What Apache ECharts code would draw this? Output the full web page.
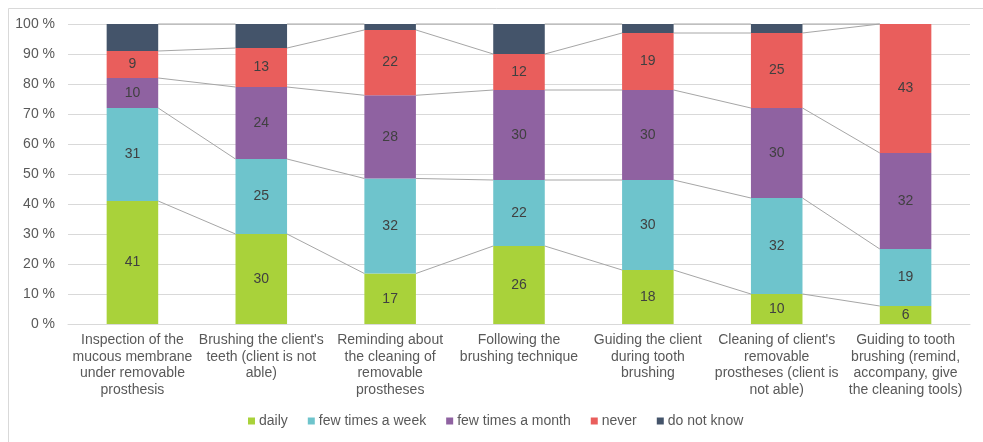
<!DOCTYPE html>
<html>
<head>
<meta charset="utf-8">
<script src="https://cdn.jsdelivr.net/npm/echarts@6/dist/echarts.min.js"></script>
<style>
  html, body { margin: 0; padding: 0; background: #fff; }
  #chart { width: 983px; height: 442px; }
</style>
</head>
<body>
<div id="chart"></div>
<script>
// Oral-care activities and how often they are carried out (counts of respondents)
const categories = [
  "Inspection of the\nmucous membrane\nunder removable\nprosthesis",
  "Brushing the client's\nteeth (client is not\nable)",
  "Reminding about\nthe cleaning of\nremovable\nprostheses",
  "Following the\nbrushing technique",
  "Guiding the client\nduring tooth\nbrushing",
  "Cleaning of client's\nremovable\nprostheses (client is\nnot able)",
  "Guiding to tooth\nbrushing (remind,\naccompany, give\nthe cleaning tools)"
];

const seriesNames = ["daily", "few times a week", "few times a month", "never", "do not know"];

const daily        = [41, 30, 17, 26, 18, 10, 6];
const fewPerWeek   = [31, 25, 32, 22, 30, 32, 19];
const fewPerMonth  = [10, 24, 28, 30, 30, 30, 32];
const never        = [9, 13, 22, 12, 19, 25, 43];
const doNotKnow    = [9, 8, 2, 10, 3, 3, 0];

const yTicks = [0, 10, 20, 30, 40, 50, 60, 70, 80, 90, 100];

const colors = ["#A9D23A", "#6EC4CC", "#8F62A1", "#E95E5C", "#44546A"];

const counts = [daily, fewPerWeek, fewPerMonth, never, doNotKnow];
const totals = categories.map((_, i) => counts.reduce((s, arr) => s + arr[i], 0));
// each segment as a share of its bar's total (100 % stacked)
const shares = counts.map(arr => arr.map((v, i) => v / totals[i] * 100));
// cumulative top of each segment, used for the connecting series lines
const tops = shares.map((_, k) =>
  categories.map((_, i) => shares.slice(0, k + 1).reduce((s, arr) => s + arr[i], 0))
);

const BAR_RATIO = 0.4;
const textColor = "#595959";
const fontFamily = "'Liberation Sans', Arial, sans-serif";

const barSeries = seriesNames.map((name, k) => ({
  name: name,
  type: "bar",
  stack: "total",
  barWidth: (BAR_RATIO * 100) + "%",
  z: 3,
  itemStyle: { color: colors[k] },
  label: {
    show: k < 4,
    position: "inside",
    color: "#404040",
    fontSize: 14,
    fontFamily: fontFamily,
    formatter: p => counts[k][p.dataIndex]
  },
  emphasis: { disabled: true },
  data: shares[k].map(v => (v > 0 ? v : null))
}));

// series lines joining the top of each segment from one bar to the next
const seriesLines = {
  type: "custom",
  silent: true,
  z: 2,
  data: categories.slice(0, -1).map((_, i) => [i]),
  renderItem: function (params, api) {
    const i = api.value(0);
    const half = api.size([1, 0])[0] * BAR_RATIO / 2;
    const children = tops.map(t => {
      const a = api.coord([i, t[i]]);
      const b = api.coord([i + 1, t[i + 1]]);
      return {
        type: "line",
        shape: { x1: a[0] + half, y1: a[1], x2: b[0] - half, y2: b[1] },
        style: { stroke: "#A6A6A6", lineWidth: 1 }
      };
    });
    return { type: "group", children: children };
  }
};

const chart = echarts.init(document.getElementById("chart"), null, { renderer: "canvas" });
chart.setOption({
  animation: false,
  backgroundColor: "#ffffff",
  textStyle: { fontFamily: fontFamily },
  graphic: [{
    type: "rect",
    left: 6, top: 6,
    shape: { width: 1000, height: 460 },
    style: { fill: null, stroke: "#D9D9D9", lineWidth: 1 },
    silent: true, z: -1
  }],
  grid: { left: 68, right: 13, top: 24, bottom: 118 },
  legend: {
    data: seriesNames,
    left: 248,
    top: 414,
    padding: 0,
    itemWidth: 7,
    itemHeight: 7,
    itemGap: 20,
    icon: "rect",
    textStyle: { color: textColor, fontSize: 14, fontFamily: fontFamily, padding: [0, 0, 0, -1] }
  },
  xAxis: {
    type: "category",
    data: categories,
    axisLine: { lineStyle: { color: "#D9D9D9", width: 1 } },
    axisTick: { show: false },
    axisLabel: {
      interval: 0,
      color: textColor,
      fontSize: 14,
      lineHeight: 16.5,
      margin: 8,
      fontFamily: fontFamily
    }
  },
  yAxis: {
    type: "value",
    min: yTicks[0],
    max: yTicks[yTicks.length - 1],
    interval: yTicks[1] - yTicks[0],
    axisLine: { show: false },
    axisTick: { show: false },
    splitLine: { lineStyle: { color: "#D9D9D9", width: 1 } },
    axisLabel: {
      color: textColor,
      fontSize: 14,
      margin: 13,
      fontFamily: fontFamily,
      formatter: v => v + " %"
    }
  },
  series: barSeries.concat([seriesLines])
});
</script>
</body>
</html>
